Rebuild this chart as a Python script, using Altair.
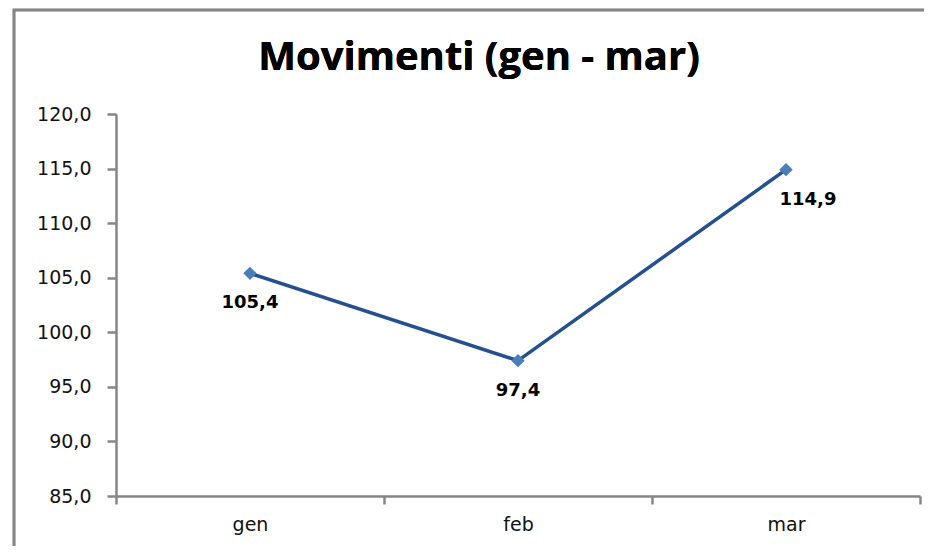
import altair as alt
import pandas as pd

months = ["gen", "feb", "mar"]
values = [105.4, 97.4, 114.9]
labels = ["105,4", "97,4", "114,9"]
y_ticks = [85, 90, 95, 100, 105, 110, 115, 120]
title_text = "Movimenti (gen - mar)"

df = pd.DataFrame({"mese": months, "valore": values, "etichetta": labels})

axis_color = "#868686"

x_enc = alt.X(
    "mese:N",
    sort=months,
    scale=alt.Scale(paddingInner=0, paddingOuter=0),
    axis=alt.Axis(
        title=None,
        labelAngle=0,
        labelFont="DejaVu Sans",
        labelFontSize=19,
        labelColor="#111111",
        labelPadding=11,
        tickBand="extent",
        tickSize=8,
        tickWidth=2.5,
        tickColor=axis_color,
        domainColor=axis_color,
        domainWidth=2.5,
        grid=False,
    ),
)
y_enc = alt.Y(
    "valore:Q",
    scale=alt.Scale(domain=[85, 120], nice=False, zero=False),
    axis=alt.Axis(
        title=None,
        values=y_ticks,
        labelExpr="replace(format(datum.value, '.1f'), '.', ',')",
        labelFont="DejaVu Sans",
        labelFontSize=19,
        labelColor="#111111",
        labelPadding=16,
        tickSize=9,
        tickWidth=2.5,
        tickColor=axis_color,
        domainColor=axis_color,
        domainWidth=2.5,
        grid=False,
    ),
)

base = alt.Chart(df).encode(x=x_enc, y=y_enc)

frame = alt.Chart(df).mark_rect(
    fill=None, stroke=axis_color, strokeWidth=2.5, clip=False
).encode(
    x=alt.value(-102), x2=alt.value(1200), y=alt.value(-104), y2=alt.value(1200)
)

title = alt.Chart(df).mark_text(
    font="Open Sans",
    fontSize=40,
    fontWeight="bold",
    color="#000000",
    align="center",
    baseline="alphabetic",
).encode(x=alt.value(363), y=alt.value(-44), text=alt.value(title_text))

line = base.mark_line(color="#24508F", strokeWidth=3.5)
points = base.mark_point(
    shape="diamond", filled=True, size=180, color="#4A7EBB", opacity=1
)
text_main = base.transform_filter(alt.datum.mese != "mar").mark_text(
    font="DejaVu Sans", fontSize=18, fontWeight="bold", color="#000000", dy=30
).encode(text="etichetta:N")
text_mar = base.transform_filter(alt.datum.mese == "mar").mark_text(
    font="DejaVu Sans", fontSize=18, fontWeight="bold", color="#000000", dy=30, dx=22
).encode(text="etichetta:N")

chart = alt.layer(frame, title, line, points, text_main, text_mar).properties(
    width=804,
    height=382,
    autosize=alt.AutoSizeParams(type="none"),
    padding={"left": 108, "top": 106, "right": 4, "bottom": 50},
).configure_view(stroke=None)

chart.save("out.html", embed_options={"renderer": "svg", "actions": False})
